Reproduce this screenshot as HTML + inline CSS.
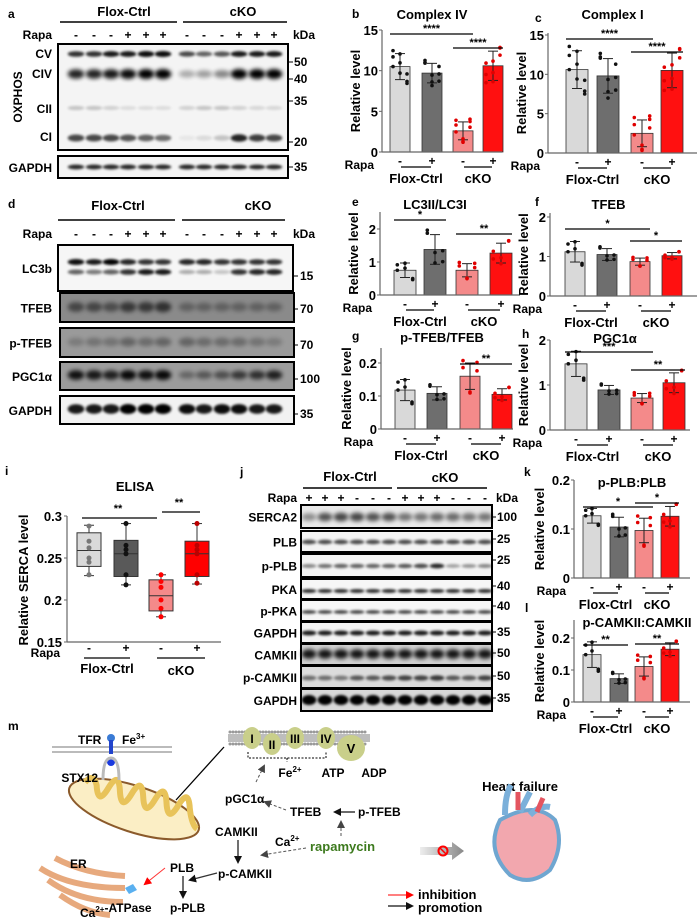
<!DOCTYPE html>
<html><head><meta charset="utf-8">
<style>
html,body{margin:0;padding:0;background:#fff;}
svg{display:block;font-family:"Liberation Sans",Arial,sans-serif;font-weight:bold;}
</style></head>
<body>
<svg id="s" width="700" height="922" viewBox="0 0 700 922" xmlns="http://www.w3.org/2000/svg">
<defs>
<filter id="bl" x="-50%" y="-100%" width="200%" height="300%"><feGaussianBlur stdDeviation="1.3"/></filter>
<filter id="bl2" x="-50%" y="-100%" width="200%" height="300%"><feGaussianBlur stdDeviation="2.2"/></filter>
<marker id="ak" markerWidth="8" markerHeight="8" refX="6" refY="4" orient="auto" markerUnits="userSpaceOnUse"><path d="M0,0 L8,4 L0,8 z" fill="#111"/></marker>
<marker id="ar" markerWidth="8" markerHeight="8" refX="6" refY="4" orient="auto" markerUnits="userSpaceOnUse"><path d="M0,0 L8,4 L0,8 z" fill="#f00"/></marker>
<marker id="ag" markerWidth="8" markerHeight="8" refX="6" refY="4" orient="auto" markerUnits="userSpaceOnUse"><path d="M0,0 L8,4 L0,8 z" fill="#444"/></marker>
</defs>
</svg>
<script>
var S=document.getElementById('s'),out='';
function T(x,y,s,sz,a,ex){out+='<text x="'+x+'" y="'+y+'" font-size="'+(sz||12)+'" text-anchor="'+(a||'start')+'" '+(ex||'')+'>'+s+'</text>';}
function L(x1,y1,x2,y2,c,w,ex){out+='<line x1="'+x1+'" y1="'+y1+'" x2="'+x2+'" y2="'+y2+'" stroke="'+(c||'#000')+'" stroke-width="'+(w||1)+'" '+(ex||'')+'/>';}
function R(x,y,w,h,f,st,sw){out+='<rect x="'+x+'" y="'+y+'" width="'+w+'" height="'+h+'" fill="'+f+'" stroke="'+(st||'none')+'" stroke-width="'+(sw||1)+'"/>';}
function C(x,y,r,f){out+='<circle cx="'+x+'" cy="'+y+'" r="'+r+'" fill="'+f+'"/>';}
function P(d,ex){out+='<path d="'+d+'" '+ex+'/>';}
function blot(x1,x2,y,h,bg,lanes,bands,label,lx){
  R(x1,y,x2-x1,h,bg);
  var sp=(lanes[1]-lanes[0]);
  bands.forEach(function(b){
    lanes.forEach(function(lx0,i){
      var v=b.v[i];
      out+='<ellipse cx="'+lx0+'" cy="'+(y+b.y)+'" rx="'+(sp*0.46)+'" ry="'+(b.h*(0.6+0.4*v))+'" fill="#000" opacity="'+Math.min(1,v)+'" filter="url(#'+(b.f||'bl')+')"/>';
    });
  });
  R(x1,y,x2-x1,h,'none','#000',2);
  if(label) T(lx,y+h/2+5,label,12,'end');
}
function rep(a,n){var r=[];for(var i=0;i<n;i++)r=r.concat(a);return r;}
var LA=[76,94,111,128,146,163,187,204,222,239,257,274];
T(8,18,'a',12);
T(124,16,'Flox-Ctrl',13,'middle');T(243,16,'cKO',13,'middle');
L(60,22,177,22,'#000',1.5);L(183,22,287,22,'#000',1.5);
function rapa(y,lanes,signs,x){T(x,y,'Rapa',12,'end');lanes.forEach(function(l,i){T(l,y,signs[i],12,'middle');});}
rapa(39,LA,['-','-','-','+','+','+','-','-','-','+','+','+'],52);T(293,39,'kDa',12);
blot(58,288,44,106,'#f4f4f4',LA,[
 {y:10,h:3,v:[.8,.8,.9,.9,.95,.95,.7,.6,.65,.9,.9,.9]},
 {y:30,h:5,v:[.85,.85,.9,.95,1,1,.3,.35,.45,1,1,1],f:'bl2'},
 {y:64,h:3,v:[.2,.2,.15,.1,.1,.1,.15,.2,.2,.15,.12,.12]},
 {y:94,h:4,v:[.7,.7,.7,.65,.6,.55,.05,.1,.2,.85,.75,.7]}
],null);
T(52,58,'CV',12,'end');T(52,78,'CIV',12,'end');T(52,113,'CII',12,'end');T(52,141,'CI',12,'end');
T(22,97,'OXPHOS',12,'middle','transform="rotate(-90 22 97)"');
blot(58,288,156,22,'#f4f4f4',LA,[{y:11,h:2.5,v:rep([.85],12)}],'GAPDH',52);
[['50',66],['40',83],['35',105],['20',146],['35',171]].forEach(function(k){L(288,k[1]-4,293,k[1]-4);T(294,k[1],k[0],12);});
T(8,208,'d',12);
T(118,210,'Flox-Ctrl',13,'middle');T(258,210,'cKO',13,'middle');
L(58,220,175,220,'#000',1.5);L(182,220,285,220,'#000',1.5);
rapa(238,LA,['-','-','-','+','+','+','-','-','-','+','+','+'],52);T(293,238,'kDa',12);
blot(58,293,245,46,'#f6f6f6',LA,[{y:17,h:3,v:[.95,.9,1,.85,.8,.8,.85,.85,.8,.8,.8,.8]},{y:27,h:3,v:[.6,.5,.6,.8,.9,.9,.3,.3,.2,.8,.85,.85]}],'LC3b',52);
blot(60,294,293,29,'#8a8a8a',LA,[{y:14,h:6,v:[.5,.5,.45,.6,.6,.65,.3,.3,.3,.3,.3,.3],f:'bl2'}],'TFEB',52);
blot(60,294,328,29,'#9a9a9a',LA,[{y:14,h:6,v:[.2,.25,.25,.35,.3,.35,.35,.3,.3,.3,.25,.2],f:'bl2'}],'p-TFEB',52);
blot(60,294,362,28,'#9c9c9c',LA,[{y:13,h:5,v:[.9,.85,.8,.95,.9,.95,.35,.45,.5,.65,.7,.8],f:'bl2'}],'PGC1α',52);
blot(60,294,396,28,'#f2f2f2',LA,[{y:13,h:5,v:[.9,.9,.9,1,1,1,.95,.9,.95,.95,.9,.9]}],'GAPDH',52);
[['15',280],['70',313],['70',349],['100',383],['35',418]].forEach(function(k){L(293,k[1]-4,298,k[1]-4);T(300,k[1],k[0],12);});
var COL=['#d9d9d9','#6e6e6e','#f48a8a','#ff1010'];
function chart(o){
  var ys=function(v){return o.y0-(v/o.ymax)*(o.y0-o.ytop);};
  o.bars.forEach(function(cx,i){
    var v=o.vals[i],y=ys(v);
    R(cx-o.bw/2,y,o.bw,o.y0-y,COL[i],'#333',0.8);
    var e=o.errs[i];
    L(cx,ys(v-e),cx,ys(v+e),'#222',1);L(cx-5,ys(v+e),cx+5,ys(v+e),'#222',1);L(cx-5,ys(v-e),cx+5,ys(v-e),'#222',1);
    var dc=i<2?'#111':'#e00000';
    for(var k=0;k<(o.n||6);k++){var dv=v+e*1.3*Math.sin(k*2.3+i);C(cx+(k%3-1)*o.bw*0.35,ys(dv),1.8,dc);}
  });
  L(o.ax,o.y0,o.ax,o.atop,'#666',1.2);L(o.ax,o.y0,o.xe,o.y0,'#666',1.2);
  o.ticks.forEach(function(t){L(o.ax-3,ys(t),o.ax,ys(t),'#666');T(o.ax-4,ys(t)+5,String(t),13,'end');});
  T((o.ax+o.xe)/2+(o.tdx||0),o.ty,o.title,13,'middle');
  T(o.ax-(o.lx||22),(o.y0+o.atop)/2,'Relative level',13,'middle','transform="rotate(-90 '+(o.ax-(o.lx||22))+' '+((o.y0+o.atop)/2)+')"');
  var ry=o.y0+13;
  T(o.ax-8,ry+4,'Rapa',12,'end');
  T(o.bars[0],ry,'-',12,'middle');T(o.bars[1],ry,'+',12,'middle');T(o.bars[2],ry,'-',12,'middle');T(o.bars[3],ry,'+',12,'middle');
  L(o.bars[0]+1,ry+2,o.bars[1]-1,ry+2,'#000',1.3);L(o.bars[2]+1,ry+2,o.bars[3]-1,ry+2,'#000',1.3);
  T((o.bars[0]+o.bars[1])/2,ry+18,'Flox-Ctrl',13,'middle');T((o.bars[2]+o.bars[3])/2,ry+18,'cKO',13,'middle');
  (o.sig||[]).forEach(function(s){L(o.bars[s[0]]-o.bw/2,s[2],o.bars[s[1]]+o.bw/2,s[2],'#000',1.3);T((o.bars[s[0]]+o.bars[s[1]])/2,s[2]-2,s[3],11,'middle');});
}
T(352,18,'b',12);T(535,22,'c',12);T(352,206,'e',12);T(535,206,'f',12);T(352,340,'g',12);T(522,338,'h',12);
T(524,476,'k',12);T(525,612,'l',12);
chart({ax:382,xe:502,y0:152,ytop:30,atop:30,ymax:15,ticks:[0,5,10,15],bars:[400,432,463,493],bw:20,vals:[10.5,9.7,2.6,10.6],errs:[1.6,1.2,1.1,1.8],title:'Complex IV',ty:19,tdx:-10,n:9,sig:[[0,2,34,'****'],[2,3,48,'****']]});
chart({ax:548,xe:697,y0:153,ytop:35,atop:33,ymax:15,ticks:[0,5,10,15],bars:[577,608,642,672],bw:22,vals:[10.6,9.8,2.5,10.5],errs:[2.4,2.2,1.7,2.2],title:'Complex I',ty:19,tdx:-10,n:9,sig:[[0,2,39,'****'],[2,3,52,'****']]});
chart({ax:380,xe:520,y0:295,ytop:229,atop:212,ymax:2,ticks:[0,1,2],bars:[405,435,467,501],bw:22,vals:[.75,1.38,.75,1.27],errs:[.22,.45,.2,.3],title:'LC3II/LC3I',ty:209,tdx:-15,sig:[[0,1,220,'*'],[2,3,234,'**']]});
chart({ax:550,xe:697,y0:296,ytop:217,atop:213,ymax:2,ticks:[0,1,2],bars:[575,607,640,672],bw:20,vals:[1.12,1.05,.87,1.02],errs:[.26,.15,.09,.08],title:'TFEB',ty:209,tdx:-15,sig:[[0,2,229,'*'],[2,3,241,'*']]});
chart({ax:381,xe:513,y0:429,ytop:363,atop:348,ymax:.2,ticks:[0,0.1,0.2],bars:[405,437,470,502],bw:20,vals:[.118,.108,.16,.105],errs:[.032,.02,.04,.017],title:'p-TFEB/TFEB',ty:342,tdx:-5,lx:30,sig:[[2,3,364,'**']]});
chart({ax:550,xe:690,y0:430,ytop:340,atop:340,ymax:2,ticks:[0,1,2],bars:[576,609,642,674],bw:22,vals:[1.47,.89,.71,1.05],errs:[.28,.1,.1,.22],title:'PGC1α',ty:343,tdx:-5,sig:[[0,2,352,'***'],[2,3,370,'**']]});
chart({ax:574,xe:690,y0:578,ytop:480,atop:480,ymax:.2,ticks:[0,0.1,0.2],bars:[592,619,644,670],bw:18,vals:[.127,.104,.097,.126],errs:[.015,.02,.025,.02],title:'p-PLB:PLB',ty:487,tdx:0,lx:30,sig:[[0,2,507,'*'],[2,3,503,'*']]});
chart({ax:574,xe:690,y0:702,ytop:638,atop:620,ymax:.2,ticks:[0,0.1,0.2],bars:[592,619,644,670],bw:18,vals:[.148,.073,.111,.165],errs:[.04,.015,.03,.02],title:'p-CAMKII:CAMKII',ty:627,tdx:5,lx:30,sig:[[0,1,645,'**'],[2,3,644,'**']]});
T(5,475,'i',12);T(135,491,'ELISA',13,'middle');
var yi=function(v){return 516+(0.3-v)*840;};
var IB=[[89,'#d9d9d9','#777',[.229,.24,.259,.28,.289],[.25,.262,.27,.23,.245,.288]],[126,'#595959','#111',[.218,.228,.255,.271,.291],[.23,.255,.26,.265,.218,.291]],[161,'#f48a8a','#f00',[.18,.187,.205,.224,.23],[.18,.19,.2,.215,.222,.23]],[197,'#ff0000','#b00',[.219,.228,.255,.27,.291],[.22,.23,.255,.26,.265,.291]]];
IB.forEach(function(b){var q=b[3],x=b[0];L(x,yi(q[0]),x,yi(q[4]),'#333');L(x-5,yi(q[0]),x+5,yi(q[0]),'#333');L(x-5,yi(q[4]),x+5,yi(q[4]),'#333');
R(x-12,yi(q[3]),24,yi(q[1])-yi(q[3]),b[1],'#333',1);L(x-12,yi(q[2]),x+12,yi(q[2]),'#333');b[4].forEach(function(v){C(x,yi(v),2.5,b[2]);});});
L(67,516,67,642,'#666',1.2);L(67,642,221,642,'#666',1.2);
[[0.3,'0.3'],[0.25,'0.25'],[0.2,'0.2'],[0.15,'0.15']].forEach(function(t){L(64,yi(t[0]),67,yi(t[0]),'#666');T(62,yi(t[0])+5,t[1],13,'end');});
T(28,580,'Relative SERCA level',13,'middle','transform="rotate(-90 28 580)"');
L(82,518,157,518,'#000',1.2);T(118,512,'**',11,'middle');L(162,512,200,512,'#000',1.2);T(179,506,'**',11,'middle');
T(60,657,'Rapa',12,'end');T(89,652,'-',12,'middle');T(126,652,'+',12,'middle');T(161,652,'-',12,'middle');T(197,652,'+',12,'middle');
L(84,658,130,658,'#000',1.3);L(157,658,205,658,'#000',1.3);T(107,673,'Flox-Ctrl',13,'middle');T(181,675,'cKO',13,'middle');
T(240,476,'j',12);
var LJ=[309,325,341,357,373,389,405,421,437,453,469,485];
T(350,481,'Flox-Ctrl',13,'middle');T(445,482,'cKO',13,'middle');L(303,488,392,488,'#000',1.5);L(397,488,487,488,'#000',1.5);
rapa(502,LJ,['+','+','+','-','-','-','+','+','+','-','-','-'],297);T(496,502,'kDa',12);
blot(301,492,505,23,'#e8e8e8',LJ,[{y:12,h:5,v:[.4,.65,.7,.7,.65,.65,.5,.5,.55,.55,.5,.5],f:'bl2'}],'SERCA2',297);
blot(301,492,531,21,'#f4f4f4',LJ,[{y:11,h:2.5,v:rep([.7],12)}],'PLB',297);
blot(301,492,554,23,'#f4f4f4',LJ,[{y:12,h:2.5,v:[.45,.55,.6,.6,.6,.6,.65,.7,.85,.35,.4,.45]}],'p-PLB',297);
blot(301,492,579,20,'#f6f6f6',LJ,[{y:12,h:2,v:rep([.85],12)}],'PKA',297);
blot(301,492,600,21,'#f6f6f6',LJ,[{y:12,h:2,v:rep([.75],12)}],'p-PKA',297);
blot(301,492,622,21,'#f4f4f4',LJ,[{y:11,h:2.5,v:rep([.9],12)}],'GAPDH',297);
blot(301,492,644,21,'#cfcfcf',LJ,[{y:10,h:5,v:rep([.9],12),f:'bl2'}],'CAMKII',297);
blot(301,492,666,22,'#dcdcdc',LJ,[{y:12,h:3,v:[.5,.5,.45,.6,.6,.65,.7,.7,.75,.6,.6,.7]}],'p-CAMKII',297);
blot(301,492,689,22,'#d8d8d8',LJ,[{y:11,h:5,v:rep([1],12)}],'GAPDH',297);
[['100',521],['25',543],['25',564],['40',590],['40',610],['35',636],['50',657],['50',680],['35',702]].forEach(function(k){L(492,k[1]-4,496,k[1]-4);T(497,k[1],k[0],12);});
// ---- panel m
T(8,730,'m',12);
out+='<ellipse cx="134" cy="809" rx="68" ry="23" transform="rotate(18 134 809)" fill="#fbeec5" stroke="#8b5a2b" stroke-width="2"/>';
P('M80,795 q6,-12 12,0 q6,20 12,0 q6,-20 12,0 q6,20 12,0 q6,-20 12,0 q6,20 12,0 q6,-20 12,0 q6,20 12,0 q6,-20 12,0 q6,16 12,18','fill="none" stroke="#e8c35a" stroke-width="6" transform="rotate(14 134 809)"');
L(52,747,172,747,'#bbb',2);L(52,752,172,752,'#bbb',2);
T(78,744,'TFR',12);T(122,744,'Fe<tspan font-size="8" dy="-5">3+</tspan>',12);
out+='<ellipse cx="111" cy="738" rx="4" ry="4" fill="#3a7bd5"/>';R(109,740,4,14,'#2244cc');C(111,762,4,'#1a3adf');
P('M103,780 Q103,758 111,758 Q119,758 119,780','fill="none" stroke="#bbb" stroke-width="3"');
T(98,782,'STX12',12,'end');
L(176,800,224,747,'#000',1.3);
for(var i=0;i<46;i++){C(230+i*3,732,1.5,'#999');C(230+i*3,744,1.5,'#999');}
R(228,734,142,8,'#bdbdbd');
[[252,738,'I'],[272,744,'II'],[295,738,'III'],[326,738,'IV']].forEach(function(c){out+='<ellipse cx="'+c[0]+'" cy="'+c[1]+'" rx="9" ry="11" fill="#c9cf8a"/>';T(c[0],c[1]+5,c[2],12,'middle');});
out+='<ellipse cx="351" cy="748" rx="14" ry="13" fill="#c9cf8a"/>';T(351,753,'V',13,'middle');
P('M248,752 v6 h78 v-6 M287,758 v4','fill="none" stroke="#000" stroke-dasharray="2,1.5"');
T(290,777,'Fe<tspan font-size="8" dy="-5">2+</tspan>',12,'middle');T(333,777,'ATP',12,'middle');T(374,777,'ADP',12,'middle');
L(256,782,264,766,'#555',1,'stroke-dasharray="3,2" marker-end="url(#ag)"');
T(225,803,'pGC1α',12);T(290,816,'TFEB',12);T(358,816,'p-TFEB',12);
L(286,810,265,802,'#555',1,'stroke-dasharray="3,2" marker-end="url(#ag)"');
L(355,812,335,812,'#111',1.2,'marker-end="url(#ak)"');
L(341,836,341,822,'#555',1,'stroke-dasharray="3,2" marker-end="url(#ag)"');
T(215,836,'CAMKII',12);T(275,846,'Ca<tspan font-size="8" dy="-5">2+</tspan>',12);
T(310,851,'rapamycin',13,'start','fill="#3d7a1e"');
L(306,848,262,855,'#555',1,'stroke-dasharray="3,2" marker-end="url(#ag)"');
L(238,840,238,862,'#111',1.2,'marker-end="url(#ak)"');
T(218,878,'p-CAMKII',12);T(170,872,'PLB',12);T(170,912,'p-PLB',12);
L(183,876,183,897,'#111',1.2,'marker-end="url(#ak)"');
L(217,873,190,880,'#333',1.2,'marker-end="url(#ak)"');
L(165,868,145,884,'#f33',1,'marker-end="url(#ar)"');
P('M40,868 q30,20 85,20 M48,880 q30,22 75,22 M55,858 q30,16 70,18 M60,895 q25,18 50,20','fill="none" stroke="#e39a66" stroke-width="6" opacity="0.85"');
T(70,868,'ER',12);P('M125,888 l8,-4 l4,6 l-8,4z','fill="#5ab0f0"');
T(80,917,'Ca<tspan font-size="8" dy="-5">2+</tspan>-ATPase',12);
out+='<defs><linearGradient id="gr"><stop offset="0" stop-color="#eee"/><stop offset="1" stop-color="#888"/></linearGradient></defs>';
P('M420,847 h32 v-5 l12,9 l-12,9 v-5 h-32z','fill="url(#gr)"');
out+='<circle cx="443" cy="851" r="4.5" fill="none" stroke="#f00" stroke-width="2"/>';L(440,848,446,854,'#f00',1.5);
T(520,791,'Heart failure',13,'middle');
P('M500,820 q-15,30 10,55 q20,12 40,-5 q15,-25 5,-50 q-20,-20 -55,0z','fill="#f2a7ae" stroke="#6fa6d0" stroke-width="4"');
P('M505,815 q0,-20 6,-30 M520,812 l10,-20 M530,815 q10,-10 20,-8','fill="none" stroke="#7bb0da" stroke-width="6"');
P('M518,810 l0,-18 M537,812 l6,-14','fill="none" stroke="#e45560" stroke-width="5"');
L(388,895,412,895,'#f33',1.2,'marker-end="url(#ar)"');L(388,906,412,906,'#111',1.2,'marker-end="url(#ak)"');
T(418,899,'inhibition',13);T(418,912,'promotion',13);
S.insertAdjacentHTML('beforeend',out);
</script>
</body></html>
